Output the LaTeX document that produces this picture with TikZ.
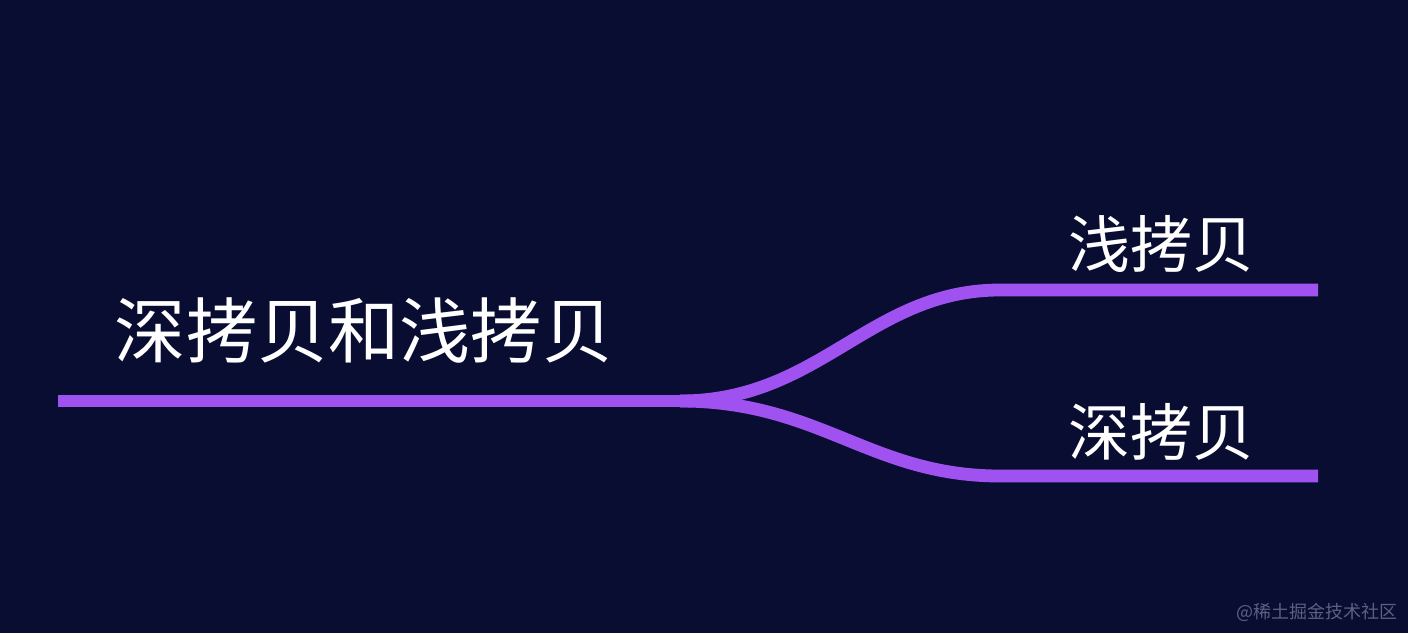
\documentclass[tikz,border=0pt]{standalone}
\usepackage{fontspec}
\setmainfont{Noto Sans CJK SC}
\usetikzlibrary{positioning}

\definecolor{nightbg}{RGB}{10,13,50}
\definecolor{branchpurple}{RGB}{160,82,240}
\definecolor{markgray}{RGB}{92,96,130}

\begin{document}
\begin{tikzpicture}[x=0.5pt,y=-0.5pt,
    branch/.style={draw=branchpurple,line width=6.4pt},
    topic/.style={text=white,inner sep=0pt,font=\fontsize{35.6}{35.6}\selectfont},
    subtopic/.style={text=white,inner sep=0pt,font=\fontsize{31}{31}\selectfont}]
  \fill[nightbg] (0,0) rectangle (1408,633);
  \useasboundingbox (0,0) rectangle (1408,633);

  % end points of the branches
  \coordinate (start) at (58,401);
  \coordinate (fork) at (680,401);
  \coordinate (shallowbend) at (1000,290);
  \coordinate (shallowend) at (1318,290);
  \coordinate (deepbend) at (1000,476);
  \coordinate (deepend) at (1318,476);

  \node[topic] (root) at (364,330) {深拷贝和浅拷贝};
  \node[subtopic] (shallow) at (1161,244) {浅拷贝};
  \node[subtopic] (deep) at (1161,432) {深拷贝};

  \draw[branch] (start) -- (fork);
  \draw[branch] (fork) .. controls (820,401) and (870,290) .. (shallowbend) -- (shallowend);
  \draw[branch] (fork) .. controls (820,401) and (870,476) .. (deepbend) -- (deepend);

  \node[text=markgray,inner sep=0pt,font=\fontsize{9}{9}\selectfont,anchor=east] (mark) at (1398,612) {@稀土掘金技术社区};
\end{tikzpicture}
\end{document}
